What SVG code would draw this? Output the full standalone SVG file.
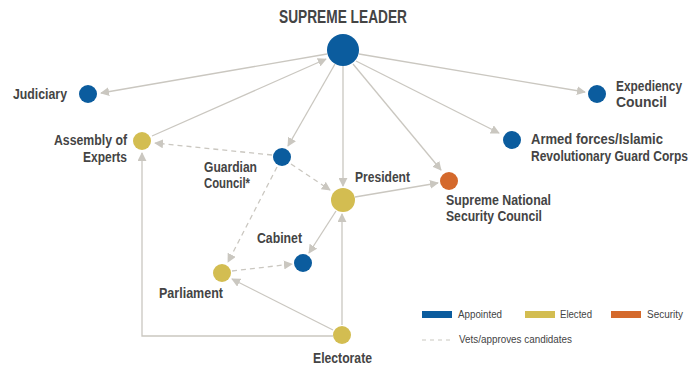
<svg xmlns="http://www.w3.org/2000/svg" width="691" height="370" viewBox="0 0 691 370">
<style>
.lbl{font-family:"Liberation Sans",Arial,sans-serif;font-weight:bold;font-size:14px;fill:#444;}
.sm{font-size:12px;}
.title{font-size:17.5px;}
.leg{font-family:"Liberation Sans",Arial,sans-serif;font-size:10px;fill:#444;}
.ln{stroke:#cac7c0;stroke-width:1.3;fill:none;marker-end:url(#ah);}
.dash{stroke-dasharray:5,4;}
.blue{fill:#0b5c9e;}
.yel{fill:#d3bd51;}
.org{fill:#d4692c;}
</style>
<defs>
<marker id="ah" viewBox="0 0 10 10" refX="9" refY="5" markerWidth="9" markerHeight="9" markerUnits="userSpaceOnUse" orient="auto">
<path d="M0,0 L10,5 L0,10 z" fill="#cac7c0"/>
</marker>
</defs>
<rect width="691" height="370" fill="#fff"/>
<g id="connectors">
<line class="ln" x1="327" y1="54" x2="101" y2="93"/>
<line class="ln" x1="359" y1="54" x2="585" y2="92"/>
<line class="ln" x1="356" y1="61" x2="499" y2="133"/>
<line class="ln" x1="353" y1="64" x2="441" y2="170"/>
<line class="ln" x1="343" y1="66" x2="343" y2="186"/>
<line class="ln" x1="335" y1="64" x2="288" y2="146"/>
<line class="ln" x1="152" y1="136" x2="326" y2="59"/>
<line class="ln dash" x1="272" y1="155" x2="155" y2="143"/>
<line class="ln dash" x1="291" y1="164" x2="330" y2="190"/>
<line class="ln dash" x1="277" y1="167" x2="228" y2="262"/>
<line class="ln" x1="355" y1="197" x2="438" y2="183"/>
<line class="ln" x1="336" y1="211" x2="309" y2="253"/>
<line class="ln dash" x1="232" y1="271" x2="292" y2="264"/>
<line class="ln" x1="333" y1="330" x2="232" y2="279"/>
<line class="ln" x1="342" y1="325" x2="342" y2="214"/>
<polyline class="ln" points="333,336 142,336 142,153"/>
</g>
<g id="supreme-leader">
<circle class="blue" cx="343" cy="50" r="16"/>
<text class="lbl title" x="279" y="23" textLength="128" lengthAdjust="spacingAndGlyphs">SUPREME LEADER</text>
</g>
<g id="judiciary">
<circle class="blue" cx="88" cy="94" r="9"/>
<text class="lbl" x="13" y="99" textLength="54" lengthAdjust="spacingAndGlyphs">Judiciary</text>
</g>
<g id="assembly-of-experts">
<circle class="yel" cx="142" cy="141" r="9"/>
<text class="lbl" x="54" y="145" textLength="73" lengthAdjust="spacingAndGlyphs">Assembly of</text>
<text class="lbl" x="83" y="162" textLength="44" lengthAdjust="spacingAndGlyphs">Experts</text>
</g>
<g id="expediency-council">
<circle class="blue" cx="597" cy="94" r="9"/>
<text class="lbl sm" transform="translate(616 91) scale(1 1.15)" x="0" y="0" textLength="66" lengthAdjust="spacingAndGlyphs">Expediency</text>
<text class="lbl sm" transform="translate(616 107) scale(1 1.15)" x="0" y="0" textLength="51" lengthAdjust="spacingAndGlyphs">Council</text>
</g>
<g id="armed-forces">
<circle class="blue" cx="512" cy="140" r="9"/>
<text class="lbl sm" transform="translate(531 144) scale(1 1.15)" x="0" y="0" textLength="132" lengthAdjust="spacingAndGlyphs">Armed forces/Islamic</text>
<text class="lbl sm" transform="translate(531 161) scale(1 1.15)" x="0" y="0" textLength="157" lengthAdjust="spacingAndGlyphs">Revolutionary Guard Corps</text>
</g>
<g id="guardian-council">
<circle class="blue" cx="282" cy="157" r="9"/>
<text class="lbl" x="204" y="172" textLength="53" lengthAdjust="spacingAndGlyphs">Guardian</text>
<text class="lbl" x="204" y="188" textLength="46" lengthAdjust="spacingAndGlyphs">Council*</text>
</g>
<g id="president">
<circle class="yel" cx="343" cy="200" r="12"/>
<text class="lbl" x="355" y="182" textLength="55" lengthAdjust="spacingAndGlyphs">President</text>
</g>
<g id="supreme-national-security-council">
<circle class="org" cx="449" cy="181" r="9"/>
<text class="lbl" x="446" y="205" textLength="105" lengthAdjust="spacingAndGlyphs">Supreme National</text>
<text class="lbl" x="446" y="221" textLength="96" lengthAdjust="spacingAndGlyphs">Security Council</text>
</g>
<g id="cabinet">
<circle class="blue" cx="303" cy="263" r="9"/>
<text class="lbl" x="257" y="243" textLength="45" lengthAdjust="spacingAndGlyphs">Cabinet</text>
</g>
<g id="parliament">
<circle class="yel" cx="222" cy="273" r="9"/>
<text class="lbl" x="159" y="298" textLength="64" lengthAdjust="spacingAndGlyphs">Parliament</text>
</g>
<g id="electorate">
<circle class="yel" cx="342" cy="335" r="9"/>
<text class="lbl" x="313" y="363" textLength="59" lengthAdjust="spacingAndGlyphs">Electorate</text>
</g>
<g id="legend">
<rect class="blue" x="422" y="311" width="30" height="7"/>
<text class="leg" x="458" y="318" textLength="44" lengthAdjust="spacingAndGlyphs">Appointed</text>
<rect class="yel" x="525" y="311" width="30" height="7"/>
<text class="leg" x="560" y="318" textLength="32" lengthAdjust="spacingAndGlyphs">Elected</text>
<rect class="org" x="611" y="311" width="30" height="7"/>
<text class="leg" x="647" y="318" textLength="36" lengthAdjust="spacingAndGlyphs">Security</text>
<line x1="422" y1="340" x2="452" y2="340" stroke="#cac7c0" stroke-width="1.2" stroke-dasharray="4,4"/>
<text class="leg" x="459" y="343" textLength="113" lengthAdjust="spacingAndGlyphs">Vets/approves candidates</text>
</g>
</svg>
